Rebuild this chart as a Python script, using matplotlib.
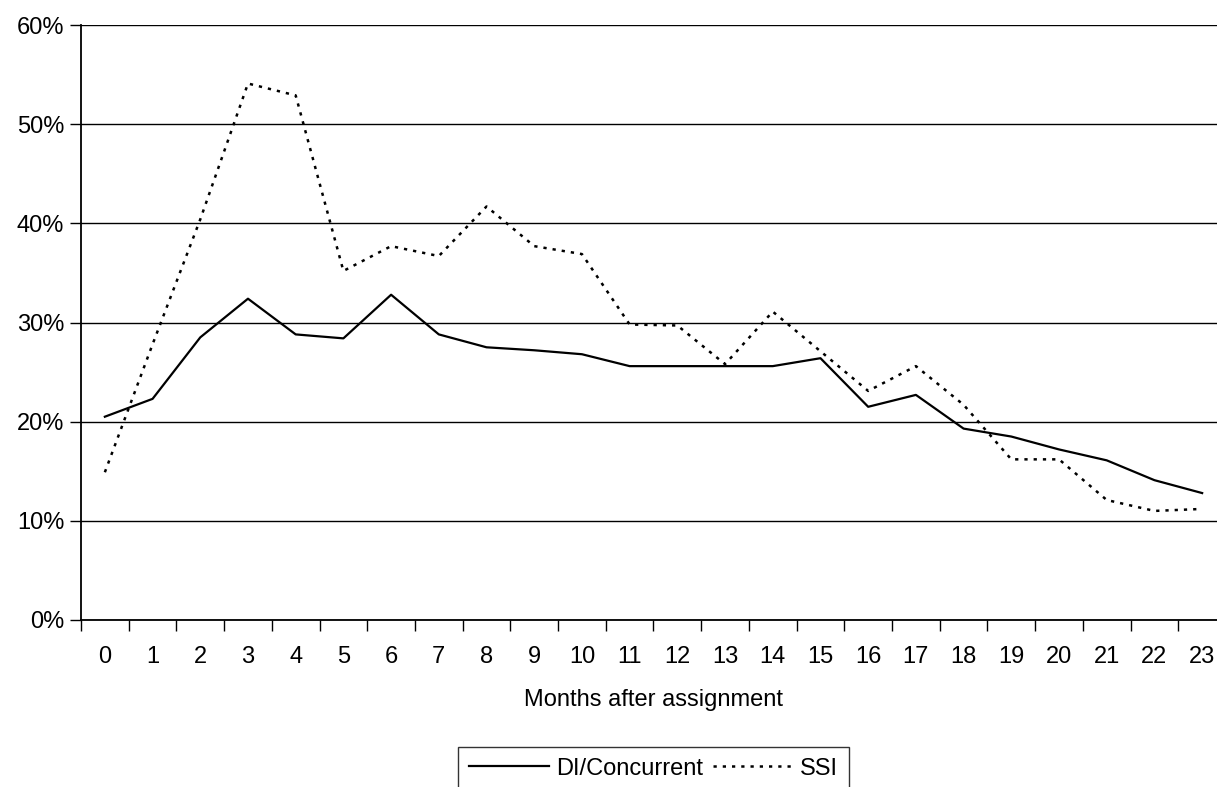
import numpy as np
import matplotlib.pyplot as plt
from matplotlib.ticker import FixedLocator, PercentFormatter

plt.rcParams['font.family'] = ['Liberation Sans', 'DejaVu Sans']

# months after assignment
months = list(range(24))
# share of cases (%)
di_concurrent = [20.5, 22.3, 28.5, 32.4, 28.8, 28.4, 32.8, 28.8, 27.5, 27.2, 26.8, 25.6,
                 25.6, 25.6, 25.6, 26.4, 21.5, 22.7, 19.3, 18.5, 17.2, 16.1, 14.1, 12.8]
ssi = [14.9, 27.8, 40.4, 54.1, 52.9, 35.2, 37.7, 36.7, 41.7, 37.7, 36.9, 29.8,
       29.7, 25.8, 31.1, 27.1, 23.1, 25.6, 21.7, 16.2, 16.2, 12.1, 11.0, 11.2]
y_ticks = [0, 10, 20, 30, 40, 50, 60]

W, H = 1217, 787
fig = plt.figure(figsize=(W / 100, H / 100), dpi=100)
left, right, top, bottom = 81, 1226, 25, 620
ax = fig.add_axes([left / W, 1 - bottom / H, (right - left) / W, (bottom - top) / H])

x = np.array(months)
ax.plot(x, di_concurrent, color='black', lw=1.6, label='DI/Concurrent', zorder=3)
ax.plot(x, ssi, color='black', lw=1.8, linestyle=(0, (1.3, 2.4)), label='SSI', zorder=3)

ax.set_xlim(-0.5, 23.5)
ax.set_ylim(0, 60)
ax.set_yticks(y_ticks)
ax.yaxis.set_major_formatter(PercentFormatter(decimals=0))
ax.yaxis.grid(True, color='black', lw=1)
ax.set_axisbelow(True)

fs = 17
ax.set_xticks(x)
ax.set_xticklabels([str(m) for m in months])
ax.xaxis.set_minor_locator(FixedLocator(np.arange(-0.5, 24, 1)))
ax.tick_params(axis='x', which='major', length=0, pad=19, labelsize=fs)
ax.tick_params(axis='x', which='minor', length=8, width=1, direction='out')
ax.tick_params(axis='y', length=8, width=1, direction='out', labelsize=fs, pad=4)

for s in ['top', 'right']:
    ax.spines[s].set_visible(False)
for s in ['left', 'bottom']:
    ax.spines[s].set_linewidth(1.3)

ax.set_xlabel('Months after assignment', fontsize=fs, labelpad=15)

leg = ax.legend(loc='upper center', bbox_to_anchor=(0.5, -0.2134), ncol=2, frameon=True,
                fancybox=False, edgecolor='black', fontsize=fs, handlelength=3.4,
                columnspacing=0.4, handletextpad=0.3, borderpad=0.45, borderaxespad=0)
leg.get_frame().set_linewidth(1)

fig.savefig('out.png', dpi=100)
